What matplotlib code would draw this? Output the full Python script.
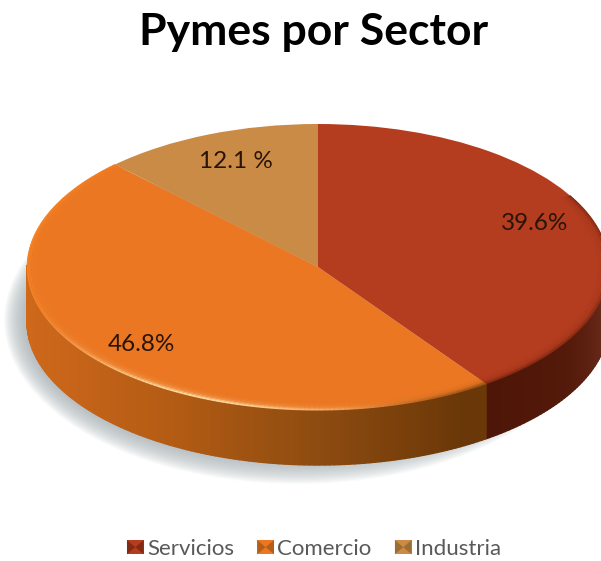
import numpy as np
import matplotlib
matplotlib.use('Agg')
import matplotlib.pyplot as plt
from matplotlib.collections import PolyCollection, LineCollection
from matplotlib.colors import to_rgb
from matplotlib.legend_handler import HandlerPatch
from matplotlib.patches import Ellipse, Polygon

# Data
categories = ['Servicios', 'Comercio', 'Industria']
shares = [39.6, 46.8, 12.1]
share_labels = ['39.6%', '46.8%', '12.1 %']

top_colors = ['#b53d1f', '#eb7722', '#c98b45']
icon_sides = ['#5a1c0c', '#8a4a12', '#7a5526']

# Side wall shading, by clock angle (degrees from 12 o'clock, clockwise)
wall_stops = {
    'Servicios': ([90, 100, 120, 143], ['#6a2c1c', '#6b2c1c', '#541a0a', '#4e1608']),
    'Comercio': ([143, 150, 180, 210, 240, 270],
                 ['#6b3a08', '#6a3708', '#8e4c10', '#b45c14', '#c9651a', '#d06a1a']),
    'Industria': ([90, 270], ['#a06a30', '#a06a30']),
}

W, H = 601, 561
CX, CY = 318, 267   # centre of the top face, pixels
RX, RY = 291, 143   # radii of the top face, pixels
DEPTH = 55 / RY

plt.rcParams['font.family'] = ['Lato', 'DejaVu Sans']

fig = plt.figure(figsize=(W / 100, H / 100), dpi=100)
ax = fig.add_axes([0, 0, 1, 1])


def blend(c1, c2, amount):
    return tuple(np.array(to_rgb(c1)) * (1 - amount) + np.array(to_rgb(c2)) * amount)


def clock_xy(angle, r=1.0):
    rad = np.radians(angle)
    return r * np.sin(rad), r * np.cos(rad)


def wall_color(name, angle):
    stops, colors = wall_stops[name]
    rgb = np.array([to_rgb(c) for c in colors])
    return tuple(np.interp(angle, stops, rgb[:, i]) for i in range(3))


class BowtieHandler(HandlerPatch):
    # legend key: lighter square with dark bevelled sides
    def create_artists(self, legend, orig_handle, xdescent, ydescent, width, height, fontsize, trans):
        x0, y0 = -xdescent, -ydescent
        x1, y1 = x0 + width, y0 + height
        mx, my = (x0 + x1) / 2, (y0 + y1) / 2
        base = Polygon([(x0, y0), (x1, y0), (x1, y1), (x0, y1)], fc=orig_handle.get_facecolor(),
                       ec='none', transform=trans)
        left = Polygon([(x0, y0), (mx, my), (x0, y1)], fc=orig_handle.get_edgecolor(),
                       ec='none', alpha=0.55, transform=trans)
        right = Polygon([(x1, y0), (mx, my), (x1, y1)], fc=orig_handle.get_edgecolor(),
                        ec='none', alpha=0.55, transform=trans)
        return [base, left, right]


# Soft shadow under the pie
for i in range(26):
    grow = 1 - i / 26
    ax.add_patch(Ellipse(((298 - CX) / RX, (CY - 320) / RY),
                         2 * (272 + 22 * grow) / RX, 2 * (140 + 24 * grow) / RY,
                         fc='#aab2b8', ec='none', alpha=0.05, zorder=1))

# Top face
wedges, _ = ax.pie(shares, colors=top_colors, startangle=90, counterclock=False,
                   radius=1, center=(0, 0), normalize=True)
for w in wedges:
    w.set_zorder(3)

# Side wall and rim, built from the same shares
edges = np.concatenate([[0], np.cumsum(shares) / np.sum(shares) * 360])
quads, quad_colors = [], []
rim_lines, rim_colors = [], []
for i, name in enumerate(categories):
    a0, a1 = edges[i], edges[i + 1]
    if name == 'Industria':
        continue
    for a in np.arange(a0, a1, 1.0):
        b = min(a + 1.0, a1)
        # wall, only on the front half
        if 90 <= a < 270:
            x0, y0 = clock_xy(a)
            x1, y1 = clock_xy(b)
            quads.append([(x0, y0), (x1, y1), (x1, y1 - DEPTH), (x0, y0 - DEPTH)])
            quad_colors.append(wall_color(name, a))
        # bevel on the top face edge
        if 60 <= a:
            for r, k in [(0.96, 0.05), (0.97, 0.12), (0.98, 0.24), (0.99, 0.55), (0.998, 0.9)]:
                if name == 'Comercio':
                    glow = np.exp(-((a - 205) / 32) ** 2)
                    left = np.exp(-((a - 280) / 35) ** 2)
                    c = blend(top_colors[i], '#ffe6b0', k * glow)
                    c = blend(c, '#ff8c28', k * left * 0.7)
                    if a < 175:
                        c = blend(c, '#8a4a10', k * (175 - a) / 32)
                else:
                    c = blend(top_colors[i], '#5a1a0a', k * 0.6)
                rim_lines.append([clock_xy(a, r), clock_xy(b, r)])
                rim_colors.append(c)

ax.add_collection(PolyCollection(quads, facecolors=quad_colors, edgecolors=quad_colors,
                                 linewidths=1.0, zorder=2))
ax.add_collection(LineCollection(rim_lines, colors=rim_colors, linewidths=1.2, zorder=4))

ax.set_aspect('auto')
ax.set_xlim(-CX / RX, (W - CX) / RX)
ax.set_ylim((CY - H) / RY, CY / RY)
ax.axis('off')

# Percent labels
label_pos = [(535, 224), (141, 345), (236, 162)]
for text, (px, py) in zip(share_labels, label_pos):
    ax.text((px - CX) / RX, (CY - py) / RY, text, fontsize=17.5, color='#2a1408',
            ha='center', va='center', zorder=5)

fig.text(314 / W, 1 - 32 / H, 'Pymes por Sector', fontsize=32, fontweight='bold',
         color='black', ha='center', va='center')

handles = [plt.Rectangle((0, 0), 1, 1, fc=c, ec=e) for c, e in zip(top_colors, icon_sides)]
fig.legend(handles, categories, loc='center', bbox_to_anchor=(314 / W, 1 - 549 / H),
           ncol=3, frameon=False, fontsize=16, labelcolor='#595959', borderaxespad=0, borderpad=0,
           handlelength=0.75, handleheight=0.6, handletextpad=0.15, columnspacing=1.05,
           handler_map={plt.Rectangle: BowtieHandler()})

fig.savefig('out.png', dpi=100)
